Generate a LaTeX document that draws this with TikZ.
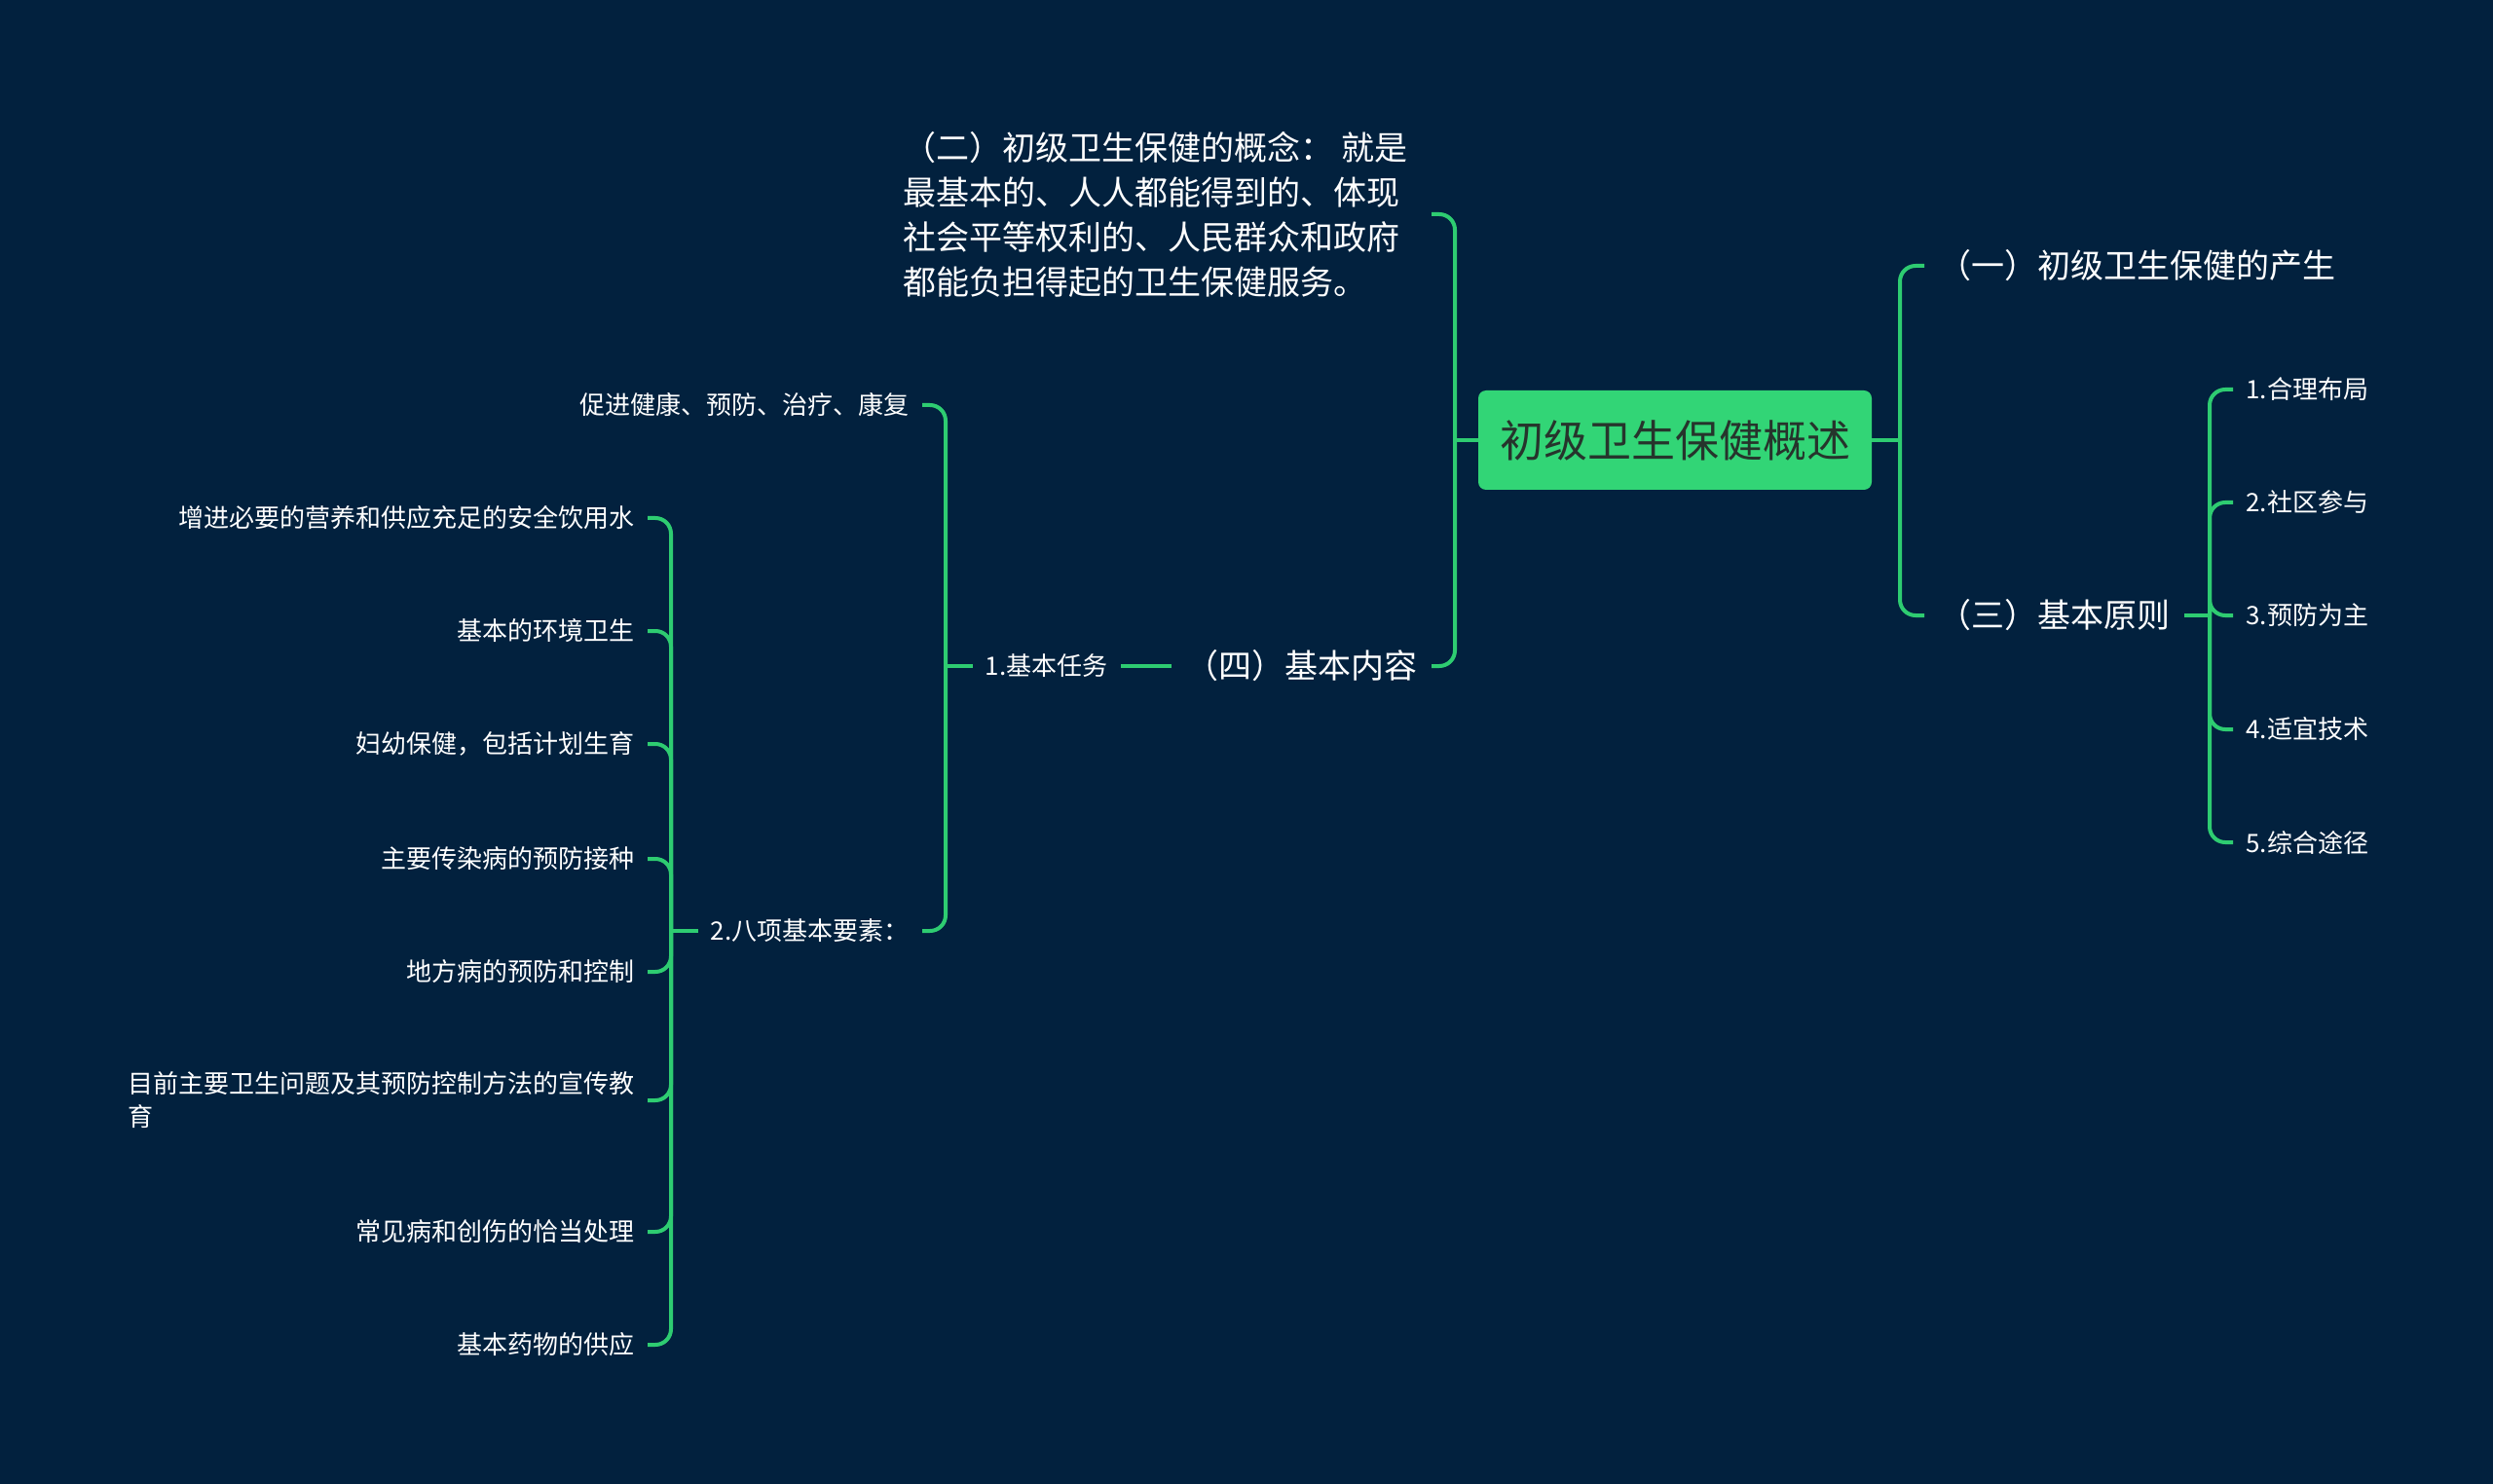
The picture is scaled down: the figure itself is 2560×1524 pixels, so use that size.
\documentclass[tikz,border=0pt]{standalone}
\usepackage{fontspec}
\newfontfamily\cjk{Noto Sans CJK SC}
\definecolor{bg}{RGB}{2,33,62}
\definecolor{linegreen}{RGB}{46,204,113}
\definecolor{rootgreen}{RGB}{50,213,118}
\definecolor{roottext}{RGB}{38,52,44}
\tikzset{
  rootbox/.style={fill=rootgreen, rounded corners=4pt, text=roottext,
    font=\cjk\fontsize{22.5}{28}\selectfont, minimum width=202pt, minimum height=51pt},
  topic/.style={text=white, inner xsep=7pt, font=\cjk\fontsize{17}{23}\selectfont},
  leaf/.style={text=white, inner xsep=6.5pt, font=\cjk\fontsize{13}{17}\selectfont},
  link/.style={draw=linegreen, line width=2pt},
  branch/.style={link, rounded corners=8pt},
}
\begin{document}
\begin{tikzpicture}[x=0.5pt, y=-0.5pt]
      \fill[bg] (0,0) rectangle (2560,1524);
      \node[rootbox] (root) at (1720,452) {初级卫生保健概述};
      \coordinate (rootR) at (1951,452);
      \coordinate (rootL) at (1494,452);
      \node[topic, anchor=west] (origin) at (1976,273) {（一）初级卫生保健的产生};
      \node[topic, anchor=west] (principle) at (1976,632) {（三）基本原则};
      \coordinate (principleR) at (2269,632);
      \node[leaf, anchor=west] (p1) at (2293,400) {1.合理布局};
      \node[leaf, anchor=west] (p2) at (2293,516) {2.社区参与};
      \node[leaf, anchor=west] (p3) at (2293,632) {3.预防为主};
      \node[leaf, anchor=west] (p4) at (2293,749) {4.适宜技术};
      \node[leaf, anchor=west] (p5) at (2293,865) {5.综合途径};
      \node[topic, anchor=east, align=left, inner xsep=12pt] (concept) at (1470,220)
        {（二）初级卫生保健的概念： 就是\\最基本的、人人都能得到的、体现\\社会平等权利的、人民群众和政府\\都能负担得起的卫生保健服务。};
      \node[topic, anchor=east] (content) at (1470,684) {（四）基本内容};
      \node[leaf, anchor=east] (task) at (1151,684) {1.基本任务};
      \coordinate (taskL) at (971,684);
      \node[leaf, anchor=east] (promote) at (947,416) {促进健康、预防、治疗、康复};
      \node[leaf, anchor=east] (eight) at (947,956) {2.八项基本要素：};
      \coordinate (eightL) at (689,956);
      \node[leaf, anchor=east] (e1) at (665,532) {增进必要的营养和供应充足的安全饮用水};
      \node[leaf, anchor=east] (e2) at (665,648) {基本的环境卫生};
      \node[leaf, anchor=east] (e3) at (665,764) {妇幼保健，包括计划生育};
      \node[leaf, anchor=east] (e4) at (665,882) {主要传染病的预防接种};
      \node[leaf, anchor=east] (e5) at (665,998) {地方病的预防和控制};
      \node[leaf, anchor=east, align=left] (e6) at (665,1130) {目前主要卫生问题及其预防控制方法的宣传教\\育};
      \node[leaf, anchor=east] (e7) at (665,1265) {常见病和创伤的恰当处理};
      \node[leaf, anchor=east] (e8) at (665,1381) {基本药物的供应};
      \begin{scope}[link]
        \draw (root.east) to (rootR);
        \draw (root.west) to (rootL);
        \draw (principle.east) to (principleR);
        \draw (content.west) to (task.east);
        \draw (task.west) to (taskL);
        \draw (eight.west) to (eightL);
      \end{scope}
      \begin{scope}[branch]
        \draw (rootR) |- (origin.west);
        \draw (rootR) |- (principle.west);
        \foreach \p in {p1,p2,p3,p4,p5}
          \draw (principleR) |- (\p.west);
        \draw (rootL) |- (concept.east);
        \draw (rootL) |- (content.east);
        \draw (taskL) |- (promote.east);
        \draw (taskL) |- (eight.east);
        \foreach \e in {e1,e2,e3,e4,e5,e6,e7,e8}
          \draw (eightL) |- (\e.east);
      \end{scope}
    \end{tikzpicture}
\end{document}
